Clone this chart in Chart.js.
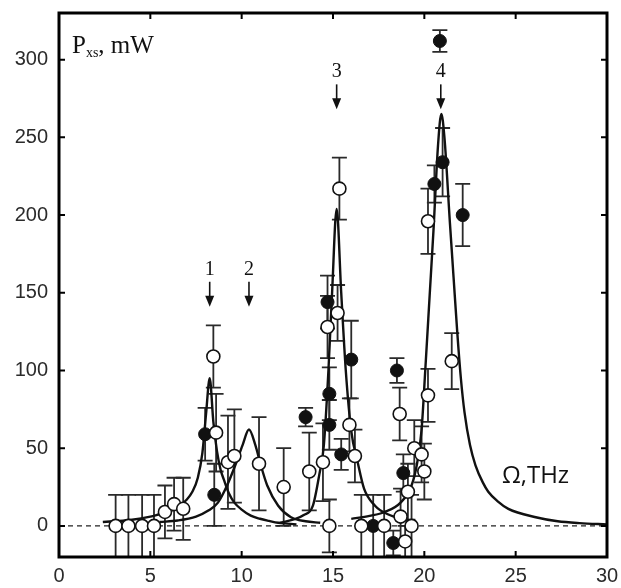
<!DOCTYPE html>
<html>
<head>
<meta charset="utf-8">
<script src="https://cdn.jsdelivr.net/npm/chart.js@4"></script>
<style>
  html, body { margin: 0; padding: 0; background: #fff; }
  #wrap { width: 621px; height: 588px; position: relative; }
</style>
</head>
<body>
<div id="wrap"><canvas id="c" width="621" height="588"></canvas></div>
<script>
// ===== axis ticks =====
const X_TICKS = [0, 5, 10, 15, 20, 25, 30];
const Y_TICKS = [0, 50, 100, 150, 200, 250, 300];

// ===== fitted curves (one per resonance) =====
const C1_X = [2.4, 3, 4, 5, 5.5, 6, 6.5, 7, 7.3, 7.6, 7.85, 8.05, 8.25, 8.45, 8.65, 8.85, 9.05, 9.3, 9.6, 10, 10.5, 11, 11.5, 12, 12.5, 13];
const C1_Y = [2.5, 3, 4, 6, 7.5, 9, 12, 17, 22, 31, 47, 72, 95, 67, 48, 36, 29, 21, 15, 10.5, 6.6, 4.6, 3.2, 2, 1.5, 1];
const C2_X = [5.5, 6.5, 7.5, 8.2, 8.7, 9.2, 9.65, 10.05, 10.4, 10.75, 11.05, 11.4, 12, 12.7, 13.5, 14.3];
const C2_Y = [2.5, 3.5, 6, 10, 15, 26, 39, 52, 62, 52, 39, 26, 13, 5.6, 3, 2];
const C3_X = [12.1, 12.8, 13.4, 13.9, 14.25, 14.5, 14.75, 14.95, 15.2, 15.45, 15.7, 16.0, 16.35, 16.7, 17.3, 18.0, 18.8, 19.5];
const C3_Y = [2, 4, 7, 13, 33, 52, 100, 150, 204, 150, 100, 61, 41, 24, 13, 7.5, 4.5, 3];
const C4_X = [16.0, 17.0, 17.8, 18.7, 19.3, 19.6, 19.85, 20.05, 20.3, 20.5, 20.75, 20.93, 21.1, 21.4, 21.6, 21.8, 22.0, 22.2, 22.5, 22.8, 23.2, 23.5, 24.0, 24.6, 26.1, 27.3, 28.5, 30];
const C4_Y = [4.5, 6.5, 8.8, 15, 26, 40, 62, 100, 150, 190, 245, 265, 250, 195, 160, 125, 95, 73, 52, 39, 28, 22, 16, 11, 5.6, 3, 1.8, 1];

// ===== measured points =====
const OPEN_X   = [3.1, 3.8, 4.55, 5.2, 5.8, 6.3, 6.8, 8.45, 8.6, 9.25, 9.6, 10.95, 12.3, 13.7, 14.45, 14.7, 15.25, 15.35, 15.9, 16.2, 14.8, 16.55, 17.8, 18.65, 18.7, 18.95, 19.1, 19.3, 19.45, 19.85, 20.0, 20.2, 20.2, 21.5];
const OPEN_Y   = [0, 0, 0, 0, 9, 14, 11, 109, 60, 41, 45, 40, 25, 35, 41, 128, 137, 217, 65, 45, 0, 0, 0, 72, 6, -10, 22, 0, 50, 46, 35, 84, 196, 106];
const OPEN_ERR = [20, 20, 20, 20, 17, 17, 20, 20, 25, 30, 30, 30, 25, 25, 25, 20, 18, 20, 17, 17, 17, 20, 20, 17, 18, 10, 18, 20, 18, 18, 18, 17, 21, 18];

const FILLED_X   = [8.0, 8.5, 13.5, 14.7, 14.8, 14.8, 15.45, 16.0, 17.2, 18.3, 18.5, 18.85, 20.55, 20.85, 21.0, 22.1];
const FILLED_Y   = [59, 20, 70, 144, 85, 65, 46, 107, 0, -11, 100, 34, 220, 312, 234, 200];
const FILLED_ERR = [17, 20, 6, 17, 17, 16, 10, 25, 20, 8, 8, 12, 12, 7, 22, 20];

// ===== resonance markers =====
const MARK_LABELS = ['1', '2', '3', '4'];
const MARK_X      = [8.25, 10.4, 15.2, 20.9];
const MARK_TIP_Y  = [141, 141, 268, 268];

const zip = (xs, ys) => xs.map((x, i) => ({ x, y: ys[i] }));

function curve(xs, ys) {
  return {
    type: 'line', data: zip(xs, ys), order: 1,
    borderColor: '#111', borderWidth: 2.4, pointRadius: 0,
    cubicInterpolationMode: 'monotone', fill: false,
  };
}

// error bars, drawn under the markers
const errorBars = {
  id: 'errorBars',
  beforeDatasetsDraw(chart) {
    const { ctx, chartArea: a, scales: { x, y } } = chart;
    ctx.save();
    ctx.beginPath(); ctx.rect(a.left, a.top, a.right - a.left, a.bottom - a.top); ctx.clip();
    ctx.strokeStyle = '#2a2a2a'; ctx.lineWidth = 1.8;
    const draw = (xs, ys, es) => xs.forEach((v, i) => {
      const px = x.getPixelForValue(v);
      const hi = y.getPixelForValue(ys[i] + es[i]);
      const lo = y.getPixelForValue(ys[i] - es[i]);
      ctx.beginPath();
      ctx.moveTo(px, hi); ctx.lineTo(px, lo);
      ctx.moveTo(px - 7.5, hi); ctx.lineTo(px + 7.5, hi);
      ctx.moveTo(px - 7.5, lo); ctx.lineTo(px + 7.5, lo);
      ctx.stroke();
    });
    draw(OPEN_X, OPEN_Y, OPEN_ERR);
    draw(FILLED_X, FILLED_Y, FILLED_ERR);
    ctx.restore();
  }
};

// frame, inward ticks, arrows and text
const decor = {
  id: 'decor',
  afterDraw(chart) {
    const { ctx, chartArea: a, scales: { x, y } } = chart;
    ctx.save();
    ctx.strokeStyle = '#000'; ctx.lineWidth = 2;
    X_TICKS.slice(1, -1).forEach(v => {
      const px = x.getPixelForValue(v);
      ctx.beginPath();
      ctx.moveTo(px, a.bottom); ctx.lineTo(px, a.bottom - 6);
      ctx.moveTo(px, a.top); ctx.lineTo(px, a.top + 6);
      ctx.stroke();
    });
    Y_TICKS.forEach(v => {
      const py = y.getPixelForValue(v);
      ctx.beginPath();
      ctx.moveTo(a.left, py); ctx.lineTo(a.left + 6, py);
      ctx.moveTo(a.right, py); ctx.lineTo(a.right - 6, py);
      ctx.stroke();
    });
    ctx.lineWidth = 3;
    ctx.strokeRect(a.left, a.top, a.right - a.left, a.bottom - a.top);

    // arrows
    ctx.fillStyle = '#111'; ctx.strokeStyle = '#111'; ctx.lineWidth = 1.6;
    ctx.font = '20px "Liberation Serif", serif';
    ctx.textAlign = 'center'; ctx.textBaseline = 'alphabetic';
    MARK_X.forEach((v, i) => {
      const px = x.getPixelForValue(v);
      const tip = y.getPixelForValue(MARK_TIP_Y[i]);
      ctx.beginPath(); ctx.moveTo(px, tip - 25); ctx.lineTo(px, tip - 8); ctx.stroke();
      ctx.beginPath();
      ctx.moveTo(px - 4.5, tip - 11); ctx.lineTo(px + 4.5, tip - 11); ctx.lineTo(px, tip);
      ctx.closePath(); ctx.fill();
      ctx.fillText(MARK_LABELS[i], px, tip - 32);
    });

    // axis captions
    ctx.textAlign = 'left';
    ctx.font = '25px "Liberation Serif", serif';
    ctx.fillText('P', 72, 53);
    const w = ctx.measureText('P').width;
    ctx.font = '14px "Liberation Serif", serif';
    ctx.fillText('xs', 72 + w, 57);
    const w2 = ctx.measureText('xs').width;
    ctx.font = '25px "Liberation Serif", serif';
    ctx.fillText(', mW', 72 + w + w2, 53);

    ctx.font = '24px "Open Sans", sans-serif';
    ctx.fillText('\u03A9,THz', 502, 483);
    ctx.restore();
  }
};

new Chart(document.getElementById('c'), {
  type: 'scatter',
  data: {
    datasets: [
      {
        data: zip(OPEN_X, OPEN_Y), order: 0,
        pointRadius: 6.5, pointBackgroundColor: '#fff', pointBorderColor: '#111', pointBorderWidth: 1.6,
      },
      {
        data: zip(FILLED_X, FILLED_Y), order: 0,
        pointRadius: 6.5, pointBackgroundColor: '#111', pointBorderColor: '#111', pointBorderWidth: 1,
      },
      curve(C1_X, C1_Y), curve(C2_X, C2_Y), curve(C3_X, C3_Y), curve(C4_X, C4_Y),
      {
        type: 'line', data: [{ x: 0, y: 0 }, { x: 30, y: 0 }], order: 2,
        borderColor: '#222', borderWidth: 1.2, borderDash: [5, 4], pointRadius: 0,
      },
    ]
  },
  options: {
    responsive: false, animation: false,
    layout: { padding: { top: 13, right: 14, left: 0, bottom: 0 } },
    plugins: { legend: { display: false }, tooltip: { enabled: false } },
    scales: {
      x: {
        type: 'linear', min: 0, max: 30,
        afterBuildTicks: s => { s.ticks = X_TICKS.map(v => ({ value: v })); },
        afterFit: s => { s.height = 31; s.paddingLeft = 0; s.paddingRight = 0; },
        grid: { display: false, drawTicks: false }, border: { display: false },
        ticks: { padding: 7, color: '#2b2b2b', font: { family: '"Liberation Sans", Arial, sans-serif', size: 20 } },
      },
      y: {
        type: 'linear', min: -20, max: 330,
        afterBuildTicks: s => { s.ticks = Y_TICKS.map(v => ({ value: v })); },
        afterFit: s => { s.width = 59; s.paddingTop = 0; s.paddingBottom = 0; },
        grid: { display: false, drawTicks: false }, border: { display: false },
        ticks: { padding: 11, color: '#2b2b2b', font: { family: '"Liberation Sans", Arial, sans-serif', size: 20 } },
      },
    }
  },
  plugins: [errorBars, decor]
});
</script>
</body>
</html>
